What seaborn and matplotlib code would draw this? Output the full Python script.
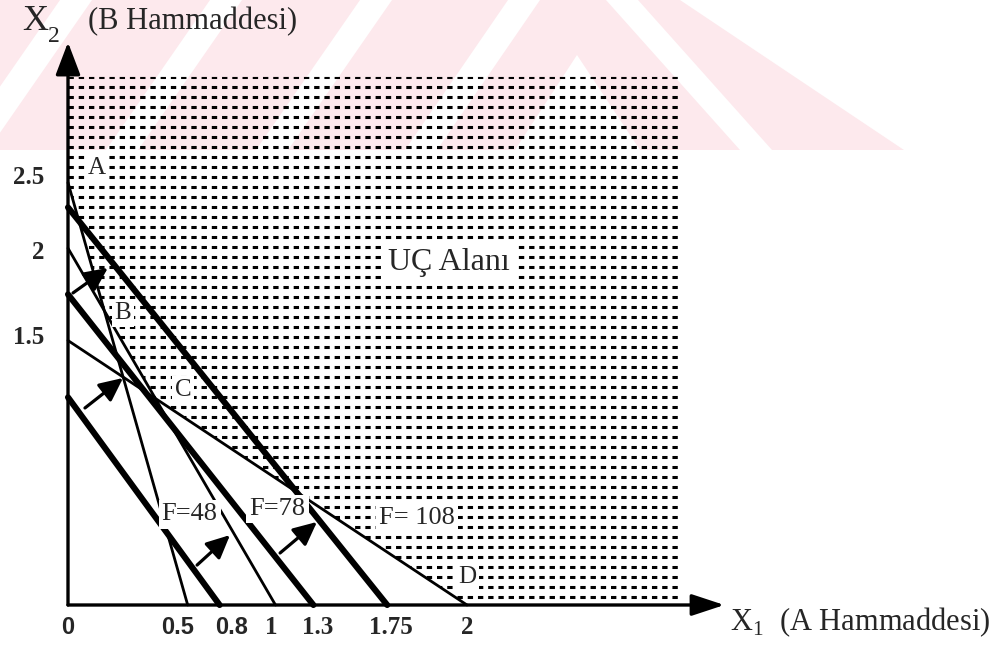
import matplotlib
matplotlib.use('Agg')
import matplotlib.pyplot as plt
from matplotlib.patches import Polygon
import numpy as np
import pandas as pd
import seaborn as sns

# ---- values (plot units) ----
constraint_names = ['k1', 'k2', 'k3']
constraint_x = [0.60, 1.04, 2.00]      # where each constraint meets the X1 axis
constraint_y = [2.38, 2.01, 1.49]      # where it meets the X2 axis

objective_labels = ['F=48', 'F=78', 'F= 108']
objective_x = [0.76, 1.23, 1.60]
objective_y = [1.17, 1.75, 2.24]
objective_label_x = [0.61, 1.05, 1.75]
objective_label_y = [0.51, 0.54, 0.49]

xtick_pos = [0, 0.55, 0.82, 1.02, 1.25, 1.62, 2.0]
xtick_labels = ['0', '0.5', '0.8', '1', '1.3', '1.75', '2']
ytick_pos = [1.52, 2.0, 2.42]
ytick_labels = ['1.5', '2', '2.5']

point_names = ['A', 'B', 'C', 'D']
point_x = [0.145, 0.276, 0.576, 2.0]
point_y = [2.46, 1.645, 1.21, 0.158]

# improvement arrows (start -> end)
arrow_x0 = [0.025, 0.085, 0.647, 1.063]
arrow_y0 = [1.758, 1.110, 0.225, 0.293]
arrow_x1 = [0.200, 0.276, 0.812, 1.248]
arrow_y1 = [1.899, 1.279, 0.394, 0.468]

region_right = 3.06
region_top = 2.975
x_axis_end = 3.29
y_axis_end = 3.17

# ---- layout ----
W, H = 1005, 648
PX_X, PX_Y = 199.5, 177.5     # pixels per unit
OX, OY = 68, 605              # origin in pixels

sns.set_theme(style='white')
plt.rcParams['font.family'] = ['Liberation Serif', 'DejaVu Serif']
plt.rcParams['mathtext.fontset'] = 'custom'
plt.rcParams['mathtext.rm'] = 'Liberation Serif'

fig = plt.figure(figsize=(W / 100, H / 100), dpi=100)
fig.patch.set_facecolor('white')
ax = fig.add_axes([0, 0, 1, 1])
ax.set_facecolor('none')


def fpx(x, y):
    return (x / W, 1 - y / H)


# faint watermark in the background
pink = '#fde9ed'
fig.add_artist(Polygon([fpx(0, 0), fpx(680, 0), fpx(904, 150), fpx(0, 150)],
                       closed=True, transform=fig.transFigure, fc=pink, ec='none', zorder=-5))
for xb, xt in [(-28, 76), (122, 226), (272, 376), (421, 524)]:
    fig.add_artist(Polygon([fpx(xb - 16, 150), fpx(xb + 16, 150), fpx(xt + 16, 0), fpx(xt - 16, 0)],
                           closed=True, transform=fig.transFigure, fc='white', ec='none', zorder=-4))
fig.add_artist(Polygon([fpx(577, 55), fpx(640, 150), fpx(515, 150)],
                       closed=True, transform=fig.transFigure, fc='white', ec='none', zorder=-4))
fig.add_artist(Polygon([fpx(606, 0), fpx(638, 0), fpx(772, 150), fpx(740, 150)],
                       closed=True, transform=fig.transFigure, fc='white', ec='none', zorder=-4))


# ---- feasible region hatch ----
def cross(i, j):
    a = np.array([[1 / constraint_x[i], 1 / constraint_y[i]],
                  [1 / constraint_x[j], 1 / constraint_y[j]]])
    return np.linalg.solve(a, [1, 1])


B = cross(0, 1)
C = cross(1, 2)
region = Polygon([(0, region_top), (0, constraint_y[0]), tuple(B), tuple(C),
                  (constraint_x[2], 0), (region_right, 0), (region_right, region_top)],
                 closed=True, fc='none', ec='none')
ax.add_patch(region)
rows = np.arange(region_top, 0.03, -10 / PX_Y)
hatch = ax.hlines(rows, 0, region_right, colors='black', linewidth=2.2,
                  linestyles=[(0, (1.75, 1.6))], zorder=1)
hatch.set_clip_path(region)

# ---- constraint and objective lines ----
thin_df = pd.DataFrame({
    'line': np.repeat(constraint_names, 2),
    'x': np.ravel([[0, v] for v in constraint_x]),
    'y': np.ravel([[v, 0] for v in constraint_y]),
})
thick_df = pd.DataFrame({
    'line': np.repeat(objective_labels, 2),
    'x': np.ravel([[0, v] for v in objective_x]),
    'y': np.ravel([[v, 0] for v in objective_y]),
})
sns.lineplot(data=thin_df, x='x', y='y', units='line', estimator=None, sort=False,
             color='black', linewidth=2.0, ax=ax, legend=False, zorder=3)
sns.lineplot(data=thick_df, x='x', y='y', units='line', estimator=None, sort=False,
             color='black', linewidth=4.4, ax=ax, legend=False, zorder=3)

for x0, y0, x1, y1 in zip(arrow_x0, arrow_y0, arrow_x1, arrow_y1):
    ax.annotate('', xy=(x1, y1), xytext=(x0, y0),
                arrowprops=dict(arrowstyle='-|>,head_length=0.95,head_width=0.45',
                                mutation_scale=15, color='black', lw=2.3,
                                shrinkA=0, shrinkB=0), zorder=4)

# axes with arrow heads
ax.annotate('', xy=(x_axis_end, 0), xytext=(0, 0),
            arrowprops=dict(arrowstyle='-|>,head_length=1.0,head_width=0.33',
                            mutation_scale=20, color='black', lw=2.4, shrinkA=0, shrinkB=0), zorder=5)
ax.annotate('', xy=(0, y_axis_end), xytext=(0, 0),
            arrowprops=dict(arrowstyle='-|>,head_length=1.0,head_width=0.38',
                            mutation_scale=20, color='black', lw=2.4, shrinkA=0, shrinkB=0), zorder=5)

# ---- labels ----
box = dict(boxstyle='square,pad=0.12', fc='white', ec='none')
for name, x, y in zip(point_names, point_x, point_y):
    ax.text(x, y, name, fontsize=18, ha='center', va='center', bbox=box, zorder=6)
for lbl, x, y in zip(objective_labels, objective_label_x, objective_label_y):
    ax.text(x, y, lbl, fontsize=19, ha='center', va='center', bbox=box, zorder=6)
ax.text(1.91, 1.93, 'UÇ Alanı', fontsize=23, ha='center', va='center', bbox=box, zorder=6)

ax.text(-0.165, 3.285, 'X', fontsize=26, ha='center', va='center')
ax.text(-0.07, 3.205, '2', fontsize=17, ha='center', va='center')
ax.text(0.10, 3.285, '(B Hammaddesi)', fontsize=22, ha='left', va='center')
ax.text(3.32, -0.095, r'X$_{1}$  (A Hammaddesi)', fontsize=22, ha='left', va='center')

# ---- ticks on axes passing through the origin ----
ax.spines['bottom'].set_position(('data', 0))
ax.spines['left'].set_position(('data', 0))
for s in ax.spines.values():
    s.set_visible(False)
ax.set_xticks(xtick_pos, xtick_labels, fontsize=18, fontweight='bold')
ax.set_yticks(ytick_pos, ytick_labels, fontsize=18, fontweight='bold')
ax.tick_params(axis='x', length=0, pad=8)
ax.tick_params(axis='y', length=0, pad=17)
for t in ax.get_xticklabels()[:3]:
    t.set_family('Liberation Sans')
    t.set_fontsize(17)
ax.set_xlabel('')
ax.set_ylabel('')

ax.set_xlim(-OX / PX_X, (W - OX) / PX_X)
ax.set_ylim(-(H - OY) / PX_Y, OY / PX_Y)

fig.savefig('out.png', dpi=100)
